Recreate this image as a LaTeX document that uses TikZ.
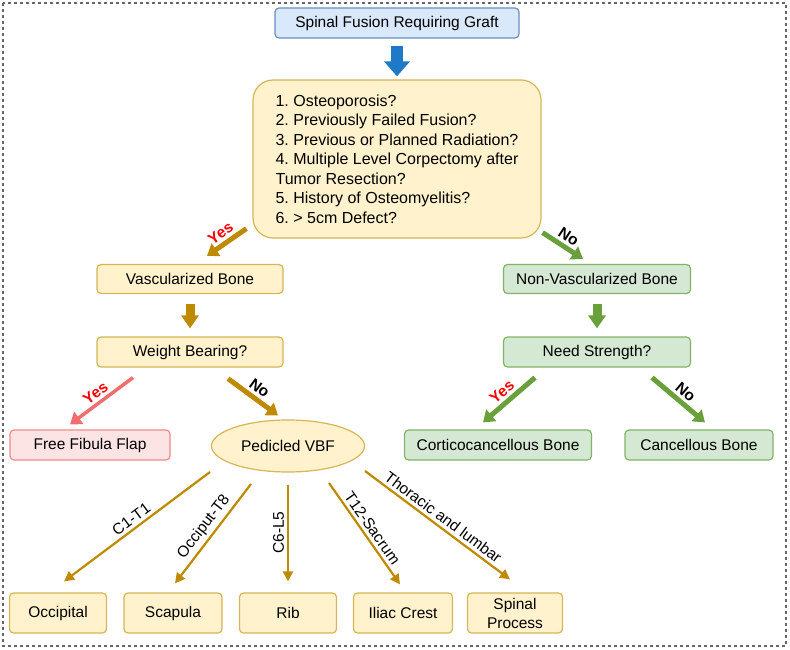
\documentclass[tikz,border=0pt]{standalone}
\usepackage{fontspec}
\setmainfont{Liberation Sans}
\usepackage{xcolor}
\definecolor{ochre}{RGB}{190,138,0}
\definecolor{ochreline}{RGB}{214,182,86}
\definecolor{ochrefill}{RGB}{255,242,204}
\definecolor{leaf}{RGB}{106,160,60}
\definecolor{leafline}{RGB}{130,179,102}
\definecolor{leaffill}{RGB}{213,232,212}
\definecolor{rose}{RGB}{240,110,110}
\definecolor{roseline}{RGB}{240,140,140}
\definecolor{rosefill}{RGB}{252,228,228}
\definecolor{sky}{RGB}{30,122,200}
\definecolor{skyline}{RGB}{108,142,191}
\definecolor{skyfill}{RGB}{218,232,252}
\usetikzlibrary{arrows.meta, shapes.geometric}
\frenchspacing
\tikzstyle{Box} = [
draw=ochreline,
fill=ochrefill,
line width=1.2pt,
rounded corners=4pt,
font=\fontsize{15.5}{18}\selectfont,
inner sep=0pt]
\tikzstyle{BoxGreen} = [Box, draw=leafline, fill=leaffill]
\tikzstyle{BoxRed} = [Box, draw=roseline, fill=rosefill]
\tikzstyle{BoxBlue} = [Box, draw=skyline, fill=skyfill]
\tikzstyle{Arrow} = [
line width=5pt,
ochre,
-{Triangle[length=11pt, width=15pt]}]
\tikzstyle{ArrowGreen} = [Arrow, leaf]
\tikzstyle{ArrowRed} = [Arrow, rose, line width=3.5pt]
\tikzstyle{ArrowDown} = [Arrow, line width=9pt,
-{Triangle[length=13pt, width=17pt]}]
\tikzstyle{ArrowThin} = [
line width=2.2pt,
ochre,
-{Triangle[length=10pt, width=10pt]}]
\tikzstyle{Yes} = [text=red, font=\fontsize{15.5}{15.5}\selectfont\bfseries,
sloped, above, inner sep=3pt]
\tikzstyle{No} = [Yes, text=black]
\tikzstyle{Level} = [text=black, font=\fontsize{15.5}{15.5}\selectfont,
sloped, above, inner sep=3pt]

\begin{document}
\begin{tikzpicture}[x=1pt, y=-1pt]
    \useasboundingbox (0,0) rectangle (790,650);
    \draw[dashed, line width=1.2pt, gray!80!black] (3,3) rectangle (786,646);

    \node [BoxBlue, minimum width=244pt, minimum height=30pt] (1) at (397,23) {Spinal Fusion Requiring Graft};
    \node [Box, rounded corners=20pt, minimum width=288pt, minimum height=158pt,
        align=left, font=\fontsize{16}{19.5}\selectfont] (2) at (397,159)
        {1. Osteoporosis?\\
        2. Previously Failed Fusion?\\
        3. Previous or Planned Radiation?\\
        4. Multiple Level Corpectomy after\\
        Tumor Resection?\\
        5. History of Osteomyelitis?\\
        6. > 5cm Defect?};
    \node [Box, minimum width=186pt, minimum height=29pt] (3) at (190,279) {Vascularized Bone};
    \node [Box, minimum width=186pt, minimum height=30pt] (4) at (190,352) {Weight Bearing?};
    \node [BoxGreen, minimum width=187pt, minimum height=29pt] (5) at (597,279) {Non-Vascularized Bone};
    \node [BoxGreen, minimum width=187pt, minimum height=30pt] (6) at (597,352) {Need Strength?};
    \node [BoxRed, minimum width=160pt, minimum height=30pt] (7) at (90,445) {Free Fibula Flap};
    \node [Box, ellipse, minimum width=153pt, minimum height=52pt] (8) at (288,446) {Pedicled VBF};
    \node [BoxGreen, minimum width=187pt, minimum height=30pt] (9) at (498,445) {Corticocancellous Bone};
    \node [BoxGreen, minimum width=148pt, minimum height=30pt] (10) at (699,445) {Cancellous Bone};
    \node [Box, minimum width=97pt, minimum height=40pt] (11) at (58,613) {Occipital};
    \node [Box, minimum width=98pt, minimum height=40pt] (12) at (173,613) {Scapula};
    \node [Box, minimum width=97pt, minimum height=40pt] (13) at (288,613) {Rib};
    \node [Box, minimum width=99pt, minimum height=40pt] (14) at (403,613) {Iliac Crest};
    \node [Box, minimum width=95pt, minimum height=40pt, align=center,
        font=\fontsize{15.5}{19}\selectfont] (15) at (515,613) {Spinal\\Process};

    % first split
    \draw[sky, line width=12pt, -{Triangle[length=15pt, width=25pt]},
        shorten <=7pt, shorten >=3pt] (1.south)--(2.north);
    \draw[Arrow] ([shift={(-6,-10)}]2.south west)--([shift={(17,-8)}]3.north)
        node[Yes, midway] {Yes};
    \draw[ArrowGreen] ([shift={(1,-6)}]2.south east)--([shift={(-14,-5)}]5.north)
        node[No, midway] {No};
    \draw[ArrowDown, shorten <=10pt, shorten >=8pt] (3.south)--(4.north);
    \draw[ArrowDown, leaf, shorten <=10pt, shorten >=8pt] (5.south)--(6.north);

    % weight bearing / strength
    \draw[ArrowRed] ([shift={(-57,10)}]4.south)--([shift={(-20,-5)}]7.north)
        node[Yes, midway] {Yes};
    \draw[Arrow] ([shift={(38,11)}]4.south)--([shift={(-10,-4)}]8.north)
        node[No, midway] {No};
    \draw[ArrowGreen] ([shift={(-62,10)}]6.south)--([shift={(-15,-7)}]9.north)
        node[Yes, midway] {Yes};
    \draw[ArrowGreen] ([shift={(55,10)}]6.south)--([shift={(6,-7)}]10.north)
        node[No, midway] {No};

    % donor sites
    \draw[ArrowThin] ([shift={(-78,26)}]8.center)--([shift={(6,-11)}]11.north)
        node[Level, midway] {C1-T1};
    \draw[ArrowThin] ([shift={(-37,38)}]8.center)--([shift={(2,-9)}]12.north)
        node[Level, midway] {Occiput-T8};
    \draw[ArrowThin, shorten <=12pt, shorten >=11pt] (8.south)--(13.north)
        node[Level, midway, sloped=false, rotate=90, anchor=south] {C6-L5};
    \draw[ArrowThin] ([shift={(41,37)}]8.center)--([shift={(-3,-8)}]14.north)
        node[Level, midway] {T12-Sacrum};
    \draw[ArrowThin] ([shift={(77,25)}]8.center)--([shift={(-5,-13)}]15.north)
        node[Level, midway] {Thoracic and lumbar};
\end{tikzpicture}
\end{document}
